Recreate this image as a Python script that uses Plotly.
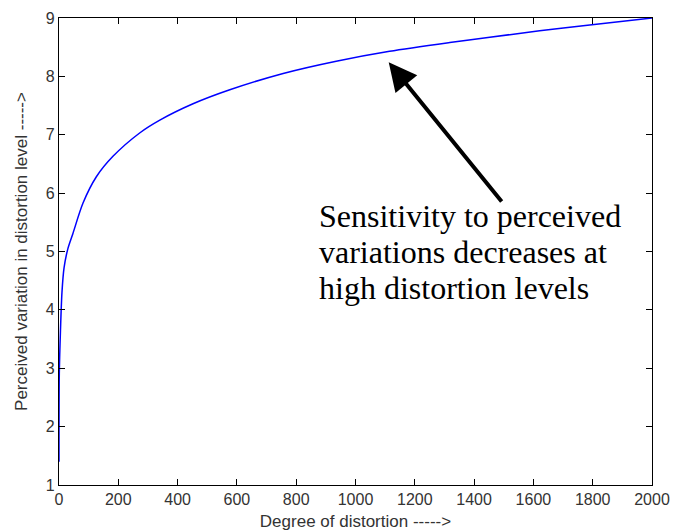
import plotly.graph_objects as go

# Data
distortion = [0, 1, 5, 10, 17, 30, 47, 81, 126, 182, 272, 340, 452, 576,
              756, 935, 1115, 1318, 1453, 1621, 1790, 2000]
perceived = [1.4, 2.9, 3.65, 4.3, 4.72, 5.05, 5.31, 5.83, 6.28, 6.63, 7.03,
             7.25, 7.53, 7.77, 8.05, 8.26, 8.43, 8.58, 8.67, 8.78, 8.88, 9.0]

x_ticks = [0, 200, 400, 600, 800, 1000, 1200, 1400, 1600, 1800, 2000]
y_ticks = [1, 2, 3, 4, 5, 6, 7, 8, 9]

annotation_lines = ["Sensitivity to perceived",
                    "variations decreases at",
                    "high distortion levels"]
line_centers = [5.6, 5.0, 4.38]   # y (data) of each text line's middle
text_left = 870
arrow_head = (1112, 8.24)
arrow_tail = (1497, 5.83)

fig = go.Figure()
fig.add_trace(go.Scatter(
    x=distortion, y=perceived, mode="lines",
    line=dict(color="#0000ff", width=1.5, shape="spline", smoothing=0.8),
    showlegend=False, hoverinfo="skip"))

tickfont = dict(family="Liberation Sans, Arial, sans-serif", size=16, color="#333333")
titlefont = dict(family="Liberation Sans, Arial, sans-serif", size=17, color="#333333")

fig.update_layout(
    width=685, height=532,
    margin=dict(l=51, r=41, t=10, b=55),
    paper_bgcolor="white", plot_bgcolor="white",
    xaxis=dict(range=[0, 2000], tickvals=x_ticks, ticks="inside", ticklen=6,
               tickcolor="black", showline=True, linecolor="black", linewidth=1.2,
               mirror="ticks", showgrid=False, zeroline=False, tickfont=tickfont,
               automargin=False,
               title=dict(text="Degree of distortion ----->", font=titlefont, standoff=7)),
    yaxis=dict(range=[1, 9], tickvals=y_ticks, ticks="inside", ticklen=6,
               tickcolor="black", showline=True, linecolor="black", linewidth=1.2,
               mirror="ticks", showgrid=False, zeroline=False, tickfont=tickfont,
               automargin=False,
               title=dict(text="Perceived variation in distortion level ----->",
                          font=titlefont, standoff=13)),
)

fig.add_annotation(
    x=arrow_head[0], y=arrow_head[1], ax=arrow_tail[0], ay=arrow_tail[1],
    xref="x", yref="y", axref="x", ayref="y", text="",
    showarrow=True, arrowhead=2, arrowsize=1.4, arrowwidth=4, arrowcolor="black")

for line, yc in zip(annotation_lines, line_centers):
    fig.add_annotation(
        x=text_left, y=yc, xref="x", yref="y", text=line, showarrow=False,
        xanchor="left", yanchor="middle", align="left",
        font=dict(family="Liberation Serif, Times New Roman, serif", size=32, color="black"))

fig.write_html("out.html")
